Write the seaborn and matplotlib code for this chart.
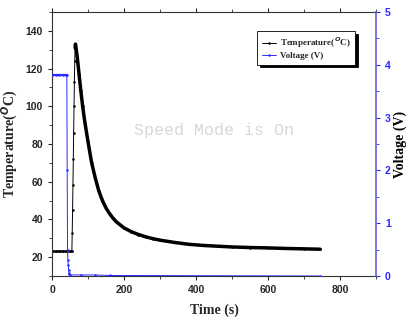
import numpy as np
import pandas as pd
import matplotlib
matplotlib.use('Agg')
import matplotlib.pyplot as plt
from matplotlib.ticker import MultipleLocator
import seaborn as sns

# temperature readings (s, degC)
temp_time = [0, 10, 20, 30, 40, 50, 55,
             56, 57, 58, 59, 60, 61, 62, 63, 64, 65,
             70, 75, 80, 85, 90, 100, 110, 120, 130, 140, 150, 160, 170, 180,
             200, 220, 240, 260, 280, 300, 340, 380, 420, 460, 500, 550, 600,
             650, 700, 745]
temp_vals = [23, 23, 23, 23, 23, 23, 23,
             33, 45, 58, 72, 86, 100, 113, 124, 131, 133,
             126, 117, 108, 100, 93, 81, 70, 62, 55, 50, 46, 43, 40.5, 38.5,
             35.5, 33.5, 32, 30.8, 29.8, 29, 27.8, 26.8, 26.2, 25.8, 25.4, 25.1, 24.9,
             24.6, 24.4, 24.2]

# voltage readings (s, V)
volt_time = [0, 10, 20, 30, 40, 41, 42, 43, 44, 45, 46, 47, 48, 50, 80, 120, 160, 745]
volt_vals = [3.8, 3.8, 3.8, 3.8, 3.8, 3.8, 2.0, 0.5, 0.3, 0.2, 0.12, 0.06, 0.03, 0.02,
             0.02, 0.02, 0.01, 0.0]

temp_df = pd.DataFrame({'Time': temp_time, 'Temp': temp_vals})
volt_df = pd.DataFrame({'Time': volt_time, 'Volt': volt_vals})

sns.set_style('ticks')
plt.rcParams['font.family'] = ['Liberation Sans', 'DejaVu Sans']
plt.rcParams['font.weight'] = 'bold'

blue = '#2a2aff'
serif = {'family': 'Liberation Serif', 'weight': 'bold'}

fig = plt.figure(figsize=(4.1, 3.2), dpi=100)
ax = fig.add_axes([0.127, 0.1375, 0.79, 0.825])
ax2 = ax.twinx()

# temperature: thin line with dots, dense parts drawn thicker
sns.lineplot(data=temp_df, x='Time', y='Temp', ax=ax, color='black', lw=0.7,
             marker='o', markersize=1.8, markeredgewidth=0, legend=False)
flat = temp_df[temp_df['Time'] <= 55]
decay = temp_df[temp_df['Time'] >= 64]
ax.plot(flat['Time'], flat['Temp'], color='black', lw=1.8)
ax.plot(decay['Time'], decay['Temp'], color='black', lw=2.5, solid_capstyle='round')

sns.lineplot(data=volt_df, x='Time', y='Volt', ax=ax2, color=blue, lw=0.7,
             marker='o', markersize=1.8, markeredgewidth=0, legend=False)
vflat = volt_df[volt_df['Time'] <= 41]
ax2.plot(vflat['Time'], vflat['Volt'], color=blue, lw=1.6)

ax.set_xlim(0, 900)
ax.set_ylim(10, 150)
ax2.set_ylim(0, 5)

ax.xaxis.set_major_locator(MultipleLocator(200))
ax.xaxis.set_minor_locator(MultipleLocator(100))
ax.yaxis.set_major_locator(MultipleLocator(20))
ax.yaxis.set_minor_locator(MultipleLocator(10))
ax2.yaxis.set_major_locator(MultipleLocator(1))
ax2.yaxis.set_minor_locator(MultipleLocator(0.5))

ax.tick_params(axis='both', which='major', labelsize=7.5, length=3, width=0.8, direction='out')
ax.tick_params(axis='both', which='minor', length=2, width=0.6, direction='out')
ax.tick_params(axis='x', top=True, which='both')
ax2.tick_params(axis='y', which='major', labelsize=7.5, length=3, width=0.8,
                colors=blue, direction='out')
ax2.tick_params(axis='y', which='minor', length=2, width=0.6, colors=blue, direction='out')

for sp in ax.spines.values():
    sp.set_linewidth(0.8)
    sp.set_color('#333333')
for name in ['left', 'top', 'bottom']:
    ax2.spines[name].set_visible(False)
ax2.spines['right'].set_color('#6060d8')
ax2.spines['right'].set_linewidth(1.2)
ax.spines['right'].set_visible(False)

ax.set_xlabel('Time (s)', fontdict=serif, fontsize=10, labelpad=6)
ax.set_ylabel('Temperature($^{O}$C)', fontdict=serif, fontsize=10, labelpad=4)
ax2.set_ylabel('Voltage (V)', fontdict=serif, fontsize=10, labelpad=2, color='black')

handles = ax.get_lines()[:1] + ax2.get_lines()[:1]
labels = ['Temperature($^{O}$C)', 'Voltage (V)']
leg = ax2.legend(handles, labels, loc='upper right', bbox_to_anchor=(0.95, 0.945),
                 prop={'family': 'Liberation Serif', 'weight': 'bold', 'size': 6.5},
                 frameon=True, fancybox=False, edgecolor='black', framealpha=1,
                 shadow={'color': 'black', 'alpha': 1}, handlelength=1.6,
                 borderpad=0.5, labelspacing=0.2, handletextpad=0.4)
leg.get_frame().set_linewidth(0.6)

ax.text(0.5, 0.55, 'Speed Mode is On', transform=ax.transAxes, ha='center', va='center',
        fontsize=12, color='#d8d8d8', family='Liberation Mono', fontweight='normal')

fig.savefig('out.png', dpi=100)
